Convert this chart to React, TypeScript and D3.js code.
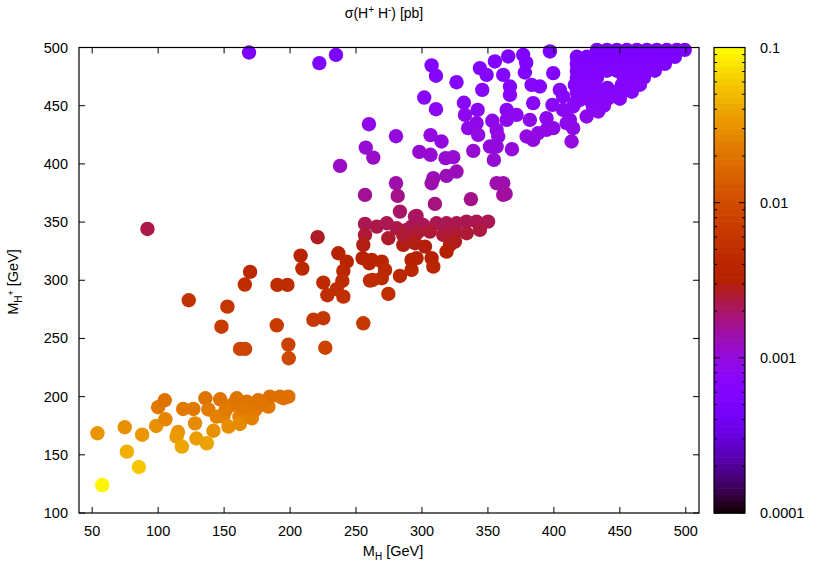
import React from 'react';
import * as d3 from 'd3';

// [M_H, M_H+, sigma(pb)]
const lowPoints: [number, number, number][] = [
  [54, 168.5, 0.032], [57.6, 124, 0.09], [74.7, 173.7, 0.03], [76.3, 152.7, 0.045],
  [85.4, 139.5, 0.058], [87.9, 167.3, 0.033], [98.5, 174.8, 0.03], [100, 190.9, 0.022],
  [105, 196.9, 0.02], [105.5, 180.5, 0.026], [115, 169.6, 0.032], [114, 165.6, 0.034],
  [118, 157, 0.04], [119, 189.4, 0.022], [126.7, 189.4, 0.022], [128, 177, 0.028],
  [129, 164, 0.035], [136.9, 159.9, 0.038], [135.8, 198.6, 0.02], [141.9, 170.7, 0.031],
  [138, 189, 0.023], [147, 197.7, 0.02], [144.4, 182.8, 0.025], [149.5, 182.8, 0.025],
  [153.3, 174.2, 0.029], [155.8, 192.8, 0.021], [159.6, 198.6, 0.02], [161.6, 182.8, 0.025],
  [162, 176.5, 0.028], [167.2, 195.7, 0.02], [171, 181.4, 0.025], [173.5, 188.5, 0.023],
  [176, 197, 0.02], [183.6, 191.4, 0.022], [184.8, 200, 0.019], [192.4, 200, 0.019],
  [195, 198.6, 0.019], [198.7, 200, 0.019], [165, 190, 0.022], [178, 193, 0.021],
  [151, 188, 0.023],
];

const midPoints: [number, number, number][] = [
  [91.9, 344.1, 0.0023], [123.2, 282.8, 0.0055], [152.5, 277.3, 0.006], [148, 260.1, 0.007],
  [162.1, 241, 0.0085], [165.9, 241, 0.0085], [169.7, 307.2, 0.0042], [165.7, 296.3, 0.0047],
  [190.4, 296, 0.0047], [198, 296, 0.0047], [189.9, 261.3, 0.0068], [198.7, 244.7, 0.008],
  [199, 233, 0.0092], [208, 321.2, 0.0035], [209.3, 310, 0.004], [220.9, 337, 0.0027],
  [217.7, 266, 0.0064], [225.2, 267.4, 0.0063], [226.7, 242, 0.0083], [225.2, 298, 0.0046],
  [228.3, 287.1, 0.005], [236.6, 323.2, 0.0034], [243, 316, 0.0037], [240.4, 308, 0.0041],
  [239.6, 299.4, 0.0045], [235.4, 292.3, 0.0048], [240.4, 285.9, 0.0051], [255.5, 263, 0.0066],
  [256.8, 348.4, 0.0022], [256.8, 339, 0.0025], [255.5, 330.4, 0.0029], [255, 319, 0.0035],
  [260, 314.6, 0.0037], [260.6, 299.7, 0.0045],
  [265.7, 346.1, 0.0023], [273.3, 349, 0.0022], [280.8, 344.7, 0.0023], [288.4, 343.3, 0.0024],
  [274.5, 336.1, 0.0026], [285.8, 330.4, 0.0029], [293.4, 337.5, 0.0026], [297.2, 341.8, 0.0024],
  [261.9, 317.5, 0.0035], [269.5, 316, 0.0036], [272, 308.9, 0.004], [262.6, 300.3, 0.0045],
  [283.3, 303.7, 0.0043], [292.1, 308.9, 0.004], [292.1, 317.5, 0.0035], [274.5, 288.3, 0.005],
  [292.1, 346.1, 0.0022], [300.9, 347.5, 0.0022], [311, 349, 0.0022], [318.6, 349, 0.0022],
  [326.2, 349, 0.0022], [333.7, 350.4, 0.0022], [341.3, 350.4, 0.0022], [350.1, 350.4, 0.0022],
  [285.8, 339, 0.0025], [296, 340.4, 0.0025], [306, 341.8, 0.0025], [316.1, 339, 0.0025],
  [325, 340.4, 0.0025], [333.9, 340.4, 0.0025], [343.9, 343.3, 0.0024],
  [294.7, 331.8, 0.0029], [302.3, 328.9, 0.003], [321.2, 330.4, 0.0029], [325, 333.2, 0.0028],
  [318.6, 324.6, 0.0032], [269.5, 301.7, 0.0044], [295.9, 319, 0.0034], [307.3, 319, 0.0034],
  [308.6, 311.7, 0.0038],
];

const upperPoints: [number, number, number][] = [
  [237.9, 398.3, 0.0012], [280.3, 383.4, 0.0014], [256.8, 373.4, 0.0016], [281.6, 372.5, 0.0017],
  [283.3, 359, 0.002], [294.7, 354.7, 0.0021], [295.9, 355.3, 0.0021], [309.8, 365.6, 0.0018],
  [337.1, 369.7, 0.0017], [361.6, 373.4, 0.0016],
  [168.9, 495.7, 0.0005], [222.2, 486.6, 0.00055], [234.8, 493.7, 0.0005], [259.8, 434.1, 0.0009],
  [257.4, 414, 0.0011], [263.1, 405.4, 0.0012], [280.3, 423.8, 0.001],
  [307.3, 484.6, 0.00058], [310.6, 475.7, 0.00062], [326.2, 470.2, 0.00065], [301.7, 457, 0.0007],
  [310.6, 447, 0.00078], [306.5, 424.7, 0.00095], [314.8, 419.2, 0.001], [298, 410.3, 0.0011],
  [306.5, 407.8, 0.0011], [317.9, 404.9, 0.0011], [323.7, 405.8, 0.0011], [326.2, 393.4, 0.0013],
  [318.6, 389.7, 0.0013], [308.6, 387.7, 0.0013], [307.3, 383.4, 0.0014],
  [331.8, 452.5, 0.00075], [342.2, 446.4, 0.00078], [341.4, 435, 0.00088], [335, 430.7, 0.0009],
  [342.6, 424.9, 0.00095], [338.9, 411.2, 0.0011], [353.3, 437, 0.00086], [356.6, 429.2, 0.0009],
  [357.8, 423.5, 0.00095], [351.5, 414.9, 0.001], [356.6, 414.9, 0.001], [354.5, 403.4, 0.0011],
  [368.2, 412.6, 0.001], [364.2, 446.4, 0.00078], [364.2, 437.8, 0.00086], [371.7, 442.1, 0.00082],
  [381.8, 437.8, 0.00086], [343.9, 482.3, 0.0006], [349, 476.5, 0.00062], [345.7, 463.6, 0.00068],
  [355.3, 488, 0.00057], [365.4, 492.3, 0.00055], [376.7, 493.7, 0.00055], [361.6, 476.5, 0.00062],
  [366.7, 466.5, 0.00066], [366.7, 459.3, 0.0007], [378, 478.5, 0.0006], [383.1, 467.9, 0.00066],
  [384.3, 452.2, 0.00074], [379.3, 423.5, 0.00095], [384.3, 420.6, 0.00097], [356.6, 383.4, 0.0014],
  [361.6, 383.4, 0.0014], [363.4, 374.2, 0.0015], [332.6, 442.1, 0.00082], [388, 426.4, 0.00093],
  [379, 487, 0.00055],
  [397, 496.6, 0.0005], [389.4, 466.5, 0.00066], [399.5, 478, 0.0006], [404.5, 463.6, 0.00068],
  [398.9, 450.7, 0.00075], [394.4, 439.3, 0.00085], [394.4, 429.2, 0.0009], [399.5, 430.7, 0.0009],
  [409.6, 435, 0.00088], [414.6, 430.7, 0.0009], [413.4, 419.2, 0.00098], [424.8, 440.7, 0.00083],
  [433.6, 445, 0.0008], [407, 446.4, 0.00078], [414.6, 449.3, 0.00077], [407, 457.9, 0.00072],
  [419.7, 455, 0.00073], [415.9, 452.2, 0.00075], [412.1, 437.8, 0.00086],
];

const densePoints: [number, number, number][] = [
  [432.6, 498, 0.0005], [440.2, 498, 0.0005], [447.7, 498, 0.0005], [455.3, 498, 0.0005],
  [462.9, 498, 0.0005], [470.5, 498, 0.0005], [478, 498, 0.0005], [485.6, 498, 0.0005],
  [493.2, 498, 0.0005], [499.2, 498, 0.0005],
  [417.4, 492, 0.00052], [425, 492, 0.00052], [432.6, 492, 0.00052], [440.2, 492, 0.00052],
  [447.7, 492, 0.00052], [455.3, 492, 0.00052], [462.9, 492, 0.00052], [470.5, 492, 0.00052],
  [478, 492, 0.00052], [485.6, 492, 0.00052], [491.7, 492, 0.00052],
  [417.4, 486, 0.00055], [425, 486, 0.00055], [432.6, 486, 0.00055], [440.2, 486, 0.00055],
  [447.7, 486, 0.00055], [455.3, 486, 0.00055], [462.9, 486, 0.00055], [470.5, 486, 0.00055],
  [478, 486, 0.00055], [484.1, 486, 0.00055],
  [417.4, 480, 0.00058], [425, 480, 0.00058], [432.6, 480, 0.00058], [440.2, 480, 0.00058],
  [447.7, 480, 0.00058], [455.3, 480, 0.00058], [462.9, 480, 0.00058], [470.5, 480, 0.00058],
  [476.5, 480, 0.00058],
  [417.4, 474, 0.0006], [425, 474, 0.0006], [432.6, 474, 0.0006], [453, 474, 0.0006],
  [460.6, 474, 0.0006], [468.2, 474, 0.0006],
  [415.9, 468, 0.00063], [423.5, 468, 0.00063], [431.1, 468, 0.00063], [451.5, 468, 0.00063],
  [459.1, 468, 0.00063], [465.2, 468, 0.00063], [440.6, 465.3, 0.00064],
  [419.7, 462, 0.00066], [427.3, 462, 0.00066], [434.8, 462, 0.00066], [443.9, 462, 0.00066],
  [451.5, 462, 0.00066], [459.1, 462, 0.00066], [417.4, 461.5, 0.00066],
  [425.8, 456, 0.0007], [433.3, 456, 0.0007], [440.9, 456, 0.0007], [450, 456, 0.0007],
  [418, 456, 0.0007], [429.5, 450, 0.00073], [437.9, 450, 0.00073],
];

const xTicks = [50, 100, 150, 200, 250, 300, 350, 400, 450, 500];
const yTicks = [100, 150, 200, 250, 300, 350, 400, 450, 500];
const cbTicks = [0.0001, 0.001, 0.01, 0.1];
const cbLabels = ['0.0001', '0.001', '0.01', '0.1'];

const W = 830, H = 581;
const L = 79, R = 699, T = 47.5, B = 513;
const CBX = 714, CBW = 31;
const FONT = '"Liberation Sans", Arial, Helvetica, sans-serif';

function palette(t: number) {
  const c = Math.max(0, Math.min(1, t));
  const r = Math.sqrt(c);
  const g = c * c * c;
  const b = Math.max(0, Math.sin(2 * Math.PI * c));
  return d3.rgb(r * 255, g * 255, b * 255).formatHex();
}

export default function App() {
  const x = d3.scaleLinear().domain([40, 510]).range([L, R]);
  const y = d3.scaleLinear().domain([100, 500]).range([B, T]);
  const cbT = d3.scaleLog().domain([1e-4, 0.1]).range([0, 1]).clamp(true);
  const cbY = d3.scaleLog().domain([1e-4, 0.1]).range([B, T]);
  const all = [...lowPoints, ...midPoints, ...upperPoints, ...densePoints];

  const N = 75;
  const bands = d3.range(N).map((i) => {
    const y0 = B - ((i + 1) / N) * (B - T);
    const y1 = B - (i / N) * (B - T);
    return { y0, h: y1 - y0 + 0.6, c: palette((i + 0.5) / N) };
  });

  const minor: number[] = [];
  for (let e = -4; e < -1; e++) {
    for (let m = 2; m <= 9; m++) minor.push(m * Math.pow(10, e));
  }

  return (
    <svg width={W} height={H} style={{ position: 'absolute', left: 0, top: 0, background: '#fff' }}
      fontFamily={FONT}>
      <rect x={0} y={0} width={W} height={H} fill="#fff" />
      <g>
        {all.map((d, i) => (
          <circle key={i} cx={x(d[0])} cy={y(d[1])} r={7.2} fill={palette(cbT(d[2]))} />
        ))}
      </g>
      <rect x={L} y={T} width={R - L} height={B - T} fill="none" stroke="#000" strokeWidth={1.2} />
      {xTicks.map((v) => (
        <g key={'x' + v}>
          <line x1={x(v)} x2={x(v)} y1={B} y2={B - 6} stroke="#000" />
          <line x1={x(v)} x2={x(v)} y1={T} y2={T + 6} stroke="#000" />
          <text x={x(v)} y={536} textAnchor="middle" fontSize={14.5} fill="#000">{v}</text>
        </g>
      ))}
      {yTicks.map((v) => (
        <g key={'y' + v}>
          <line x1={L} x2={L + 6} y1={y(v)} y2={y(v)} stroke="#000" />
          <line x1={R} x2={R - 6} y1={y(v)} y2={y(v)} stroke="#000" />
          <text x={68} y={y(v) + 5} textAnchor="end" fontSize={14.5} fill="#000">{v}</text>
        </g>
      ))}
      {bands.map((b, i) => (
        <rect key={'b' + i} x={CBX} y={b.y0} width={CBW} height={b.h} fill={b.c} />
      ))}
      <rect x={CBX} y={T} width={CBW} height={B - T} fill="none" stroke="#000" strokeWidth={1.2} />
      {cbTicks.map((v, i) => (
        <g key={'c' + v}>
          <line x1={CBX} x2={CBX + 6} y1={cbY(v)} y2={cbY(v)} stroke="#000" />
          <line x1={CBX + CBW} x2={CBX + CBW - 6} y1={cbY(v)} y2={cbY(v)} stroke="#000" />
          <text x={760} y={cbY(v) + 5} fontSize={14.5} fill="#000">{cbLabels[i]}</text>
        </g>
      ))}
      {minor.map((v) => (
        <g key={'m' + v}>
          <line x1={CBX} x2={CBX + 3} y1={cbY(v)} y2={cbY(v)} stroke="#000" />
          <line x1={CBX + CBW} x2={CBX + CBW - 3} y1={cbY(v)} y2={cbY(v)} stroke="#000" />
        </g>
      ))}
      <text x={384} y={18} textAnchor="middle" fontSize={14} fill="#000">
        σ(H<tspan dy={-5} fontSize={10}>+</tspan><tspan dy={5}> H</tspan><tspan dy={-5} fontSize={10}>-</tspan><tspan dy={5}>) [pb]</tspan>
      </text>
      <text x={393} y={556} textAnchor="middle" fontSize={14.5} fill="#000">
        M<tspan dy={4} fontSize={10}>H</tspan><tspan dy={-4}> [GeV]</tspan>
      </text>
      <text transform="translate(18,282) rotate(-90)" textAnchor="middle" fontSize={14.5} fill="#000">
        M<tspan dy={4} fontSize={10}>H</tspan><tspan dy={-8} fontSize={9}>+</tspan><tspan dy={4}> [GeV]</tspan>
      </text>
    </svg>
  );
}
